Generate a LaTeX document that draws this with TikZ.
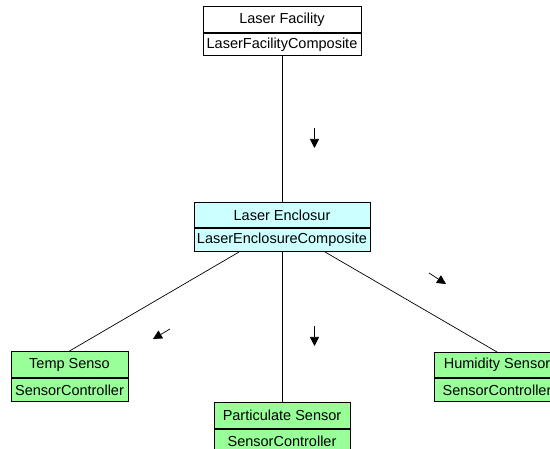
\documentclass[tikz,border=0pt]{standalone}
\usepackage{fontspec}
\setmainfont{Liberation Sans}
\usetikzlibrary{arrows.meta,fit}
\definecolor{enccyan}{RGB}{204,255,255}
\definecolor{sensgreen}{RGB}{153,255,153}
\tikzset{
  part/.style={draw=black, line width=0.9pt, inner sep=0pt, anchor=north,
    font=\fontsize{14.5}{17}\selectfont},
  hdr/.style={part, minimum height=26pt},
  bdy/.style={part, minimum height=23pt},
  whole/.style={inner sep=0pt, draw=none},
  link/.style={draw=black, line width=0.7pt},
  dirarrow/.style={draw=black, line width=0.7pt, -{Triangle[length=9pt,width=9pt]}}
}
\begin{document}
\begin{tikzpicture}[x=1pt,y=-1pt]
\useasboundingbox (0,0) rectangle (550,449);
\clip (0,0) rectangle (550,449);
% Laser Facility
\node[hdr, fill=white, minimum width=158pt] (fach) at (282,6) {Laser Facility};
\node[bdy, fill=white, minimum width=158pt, minimum height=22pt] (facb) at (fach.south) {LaserFacilityComposite};
\node[whole, fit=(fach)(facb)] (fac) {};
% Laser Enclosure
\node[hdr, fill=enccyan, minimum width=176pt, minimum height=25pt] (ench) at (282,202) {Laser Enclosur};
\node[bdy, fill=enccyan, minimum width=176pt] (encb) at (ench.south) {LaserEnclosureComposite};
\node[whole, fit=(ench)(encb)] (enc) {};
% Temp
\node[hdr, fill=sensgreen, minimum width=117pt] (temph) at (69.5,351) {Temp Senso};
\node[bdy, fill=sensgreen, minimum width=117pt] (tempb) at (temph.south) {SensorController};
% Particulate
\node[hdr, fill=sensgreen, minimum width=136pt] (parth) at (282,402) {Particulate Sensor};
\node[bdy, fill=sensgreen, minimum width=136pt] (partb) at (parth.south) {SensorController};
% Humidity
\node[hdr, fill=sensgreen, minimum width=126pt, minimum height=25pt] (humh) at (497,352) {Humidity Sensor};
\node[bdy, fill=sensgreen, minimum width=126pt] (humb) at (humh.south) {SensorController};
% connectors
\draw[link] (facb.south) -- (ench.north);
\draw[link] (enc) -- (temph.north);
\draw[link] (encb.south) -- (parth.north);
\draw[link] (enc) -- (humh.north);
% direction markers
\coordinate (a1s) at (314.5,128); \coordinate (a1e) at (314.5,148);
\coordinate (a2s) at (170,329);   \coordinate (a2e) at (153,339);
\coordinate (a3s) at (429,273);   \coordinate (a3e) at (446,284);
\coordinate (a4s) at (314.5,326); \coordinate (a4e) at (314.5,346);
\draw[dirarrow] (a1s) -- (a1e);
\draw[dirarrow] (a2s) -- (a2e);
\draw[dirarrow] (a3s) -- (a3e);
\draw[dirarrow] (a4s) -- (a4e);
\end{tikzpicture}
\end{document}
